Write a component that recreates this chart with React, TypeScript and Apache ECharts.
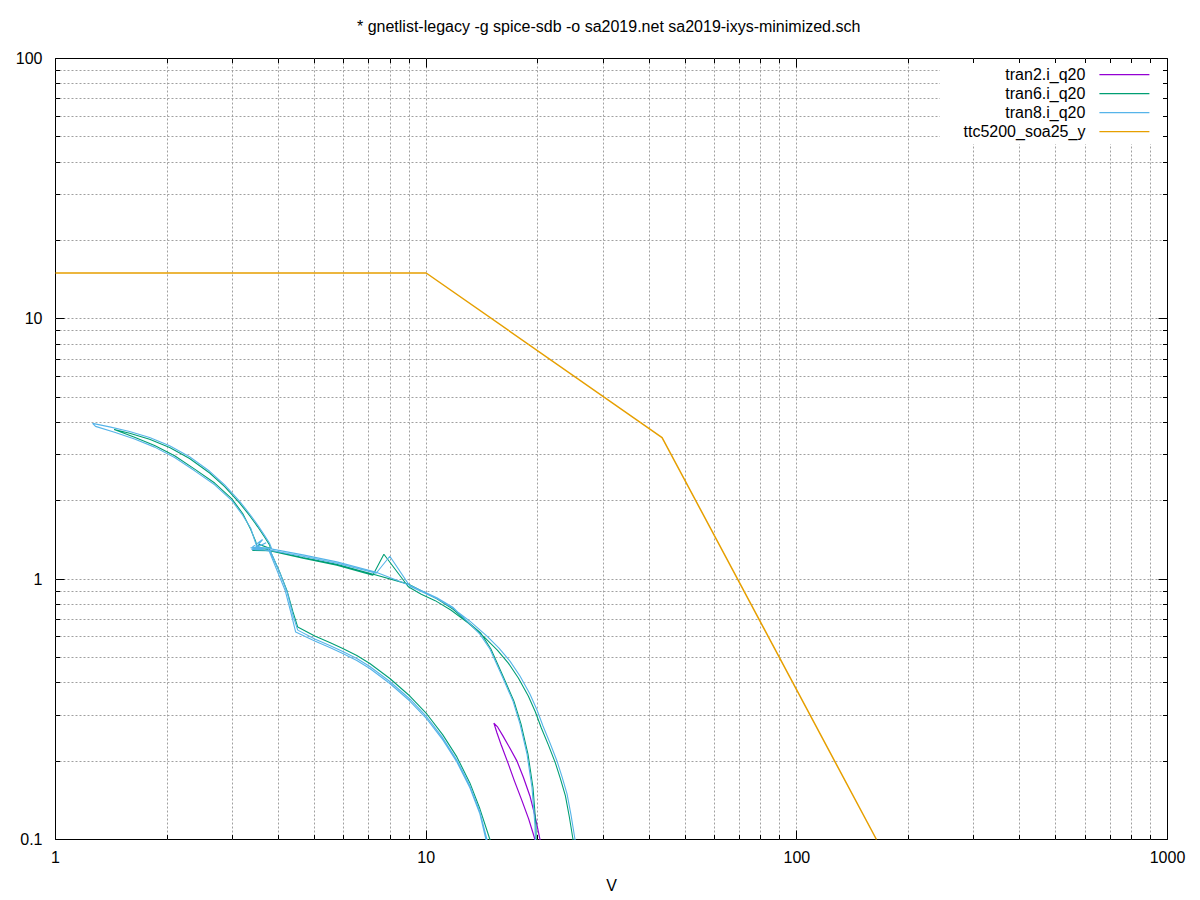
import React, { useEffect, useRef } from "react";
import * as echarts from "echarts";

const FONT = '"Liberation Sans", Arial, Helvetica, sans-serif';

const titleText = "* gnetlist-legacy -g spice-sdb -o sa2019.net sa2019-ixys-minimized.sch";
const xAxisName = "V";

const seriesNames = ["tran2.i_q20", "tran6.i_q20", "tran8.i_q20", "ttc5200_soa25_y"];
const seriesColors = ["#9400d3", "#009e73", "#56b4e9", "#e69f00"];

// [V, I] pairs (points at 0.05 leave the plot below its bottom edge)
const tran2: number[][] = [
  [19.9, 0.05], [19.66, 0.1], [18.9, 0.12], [18.13, 0.141], [17.3, 0.168], [16.62, 0.197], [15.95, 0.23],
  [15.52, 0.257], [15.23, 0.28],
  [15.6, 0.27], [16.11, 0.25], [16.8, 0.225], [17.58, 0.2], [18.3, 0.173], [19.05, 0.147], [19.7, 0.122],
  [20.28, 0.1], [20.6, 0.05],
];

const tran6: number[][] = [
  [15.3, 0.05],
  [14.86, 0.1], [13.96, 0.1312], [13.12, 0.165], [12.1, 0.2076], [11.09, 0.2522], [10.04, 0.3035],
  [9.036, 0.3557], [7.98, 0.4153], [7.047, 0.4741], [6.5, 0.5087], [5.957, 0.5413], [5.495, 0.5706],
  [5.005, 0.6044], [4.503, 0.6544],
  [4.37, 0.75], [4.21, 0.905], [4.03, 1.06], [3.78, 1.3], [3.5, 1.33],
  [3.468, 1.395], [3.363, 1.55], [3.199, 1.787], [2.987, 2.04], [2.688, 2.34], [2.374, 2.646],
  [2.096, 2.977], [1.851, 3.263], [1.634, 3.508], [1.44, 3.76],
  [1.585, 3.634], [1.794, 3.446], [2.032, 3.205], [2.3, 2.909], [2.606, 2.557], [2.86, 2.266],
  [3.14, 1.96], [3.341, 1.753], [3.512, 1.589], [3.667, 1.448], [3.784, 1.35], [3.8, 1.31],
  [3.55, 1.36], [3.4, 1.29],
  [3.78, 1.285], [4.65, 1.204], [5.74, 1.131], [7.18, 1.036], [7.69, 1.247], [8.95, 0.935],
  [9.7, 0.875], [10.58, 0.827], [11.68, 0.76], [12.99, 0.678], [14.44, 0.594], [15.56, 0.534],
  [16.66, 0.476], [17.73, 0.417], [18.86, 0.356], [19.71, 0.309], [20.45, 0.268], [21.36, 0.231],
  [22.31, 0.197], [23.03, 0.171], [23.75, 0.147], [24.34, 0.122], [24.9, 0.1], [25.6, 0.05],
  [19.9, 0.05],
  [19.78, 0.113], [19.42, 0.158], [18.82, 0.213], [18.02, 0.278], [17.25, 0.34], [16.2, 0.417],
  [14.95, 0.539], [14.05, 0.62],
  [11.8, 0.768], [10.69, 0.84], [9.0, 0.955], [7.2, 1.045], [5.74, 1.14], [4.65, 1.212], [3.78, 1.29], [3.4, 1.3],
];

const tran8: number[][] = [
  [14.9, 0.05],
  [14.5, 0.1], [13.96, 0.1255], [13.12, 0.1579], [12.1, 0.1986], [11.09, 0.2412], [10.04, 0.2904],
  [9.036, 0.3404], [7.98, 0.3974], [7.047, 0.4536], [6.5, 0.4869], [5.957, 0.518], [5.495, 0.5461],
  [5.005, 0.5783], [4.446, 0.6263],
  [4.33, 0.73], [4.17, 0.9], [3.98, 1.06], [3.74, 1.32],
  [3.512, 1.315], [3.468, 1.374], [3.363, 1.569], [3.199, 1.76], [2.987, 2.009], [2.688, 2.304],
  [2.374, 2.607], [2.096, 2.933], [1.851, 3.215], [1.634, 3.456], [1.443, 3.669], [1.282, 3.863], [1.259, 3.966],
  [1.399, 3.846], [1.585, 3.689], [1.794, 3.499], [2.032, 3.254], [2.3, 2.953], [2.606, 2.596],
  [2.86, 2.3], [3.14, 1.99], [3.341, 1.78], [3.512, 1.613], [3.667, 1.47], [3.784, 1.37], [3.83, 1.31],
  [3.4, 1.33], [3.62, 1.42], [3.45, 1.31], [3.7, 1.38], [3.38, 1.3],
  [3.784, 1.292], [4.645, 1.225], [5.739, 1.152], [7.33, 1.054], [7.98, 1.225], [9.036, 0.94],
  [9.797, 0.8915], [10.69, 0.8417], [11.8, 0.774], [13.12, 0.69], [14.59, 0.6044], [15.72, 0.5436],
  [16.83, 0.4845], [17.91, 0.4246], [19.05, 0.3621], [19.91, 0.3145], [20.66, 0.273], [21.58, 0.2349],
  [22.54, 0.2003], [23.26, 0.174], [23.99, 0.1497], [24.59, 0.1244], [25.21, 0.1], [26.0, 0.05],
  [20.0, 0.05],
  [19.66, 0.113], [19.3, 0.158], [18.71, 0.213], [17.91, 0.278], [17.15, 0.34], [16.11, 0.417],
  [14.86, 0.539], [13.96, 0.615], [13.3, 0.66],
  [11.8, 0.78], [10.69, 0.848], [9.03, 0.948], [7.3, 1.065], [5.74, 1.165], [4.65, 1.24], [3.78, 1.31], [3.36, 1.32],
  [3.8, 1.28], [4.05, 1.04], [4.22, 0.89], [4.38, 0.72], [4.503, 0.6371],
  [5.005, 0.5886], [5.495, 0.5559], [5.957, 0.5273], [6.5, 0.4955], [7.047, 0.4617], [7.98, 0.4045],
  [9.036, 0.3466], [10.04, 0.2956], [11.09, 0.2455], [12.1, 0.2021], [13.12, 0.1607], [13.96, 0.1278],
  [14.59, 0.1], [15.0, 0.05],
];

const soa: number[][] = [[1, 15], [10, 15], [43.3, 3.5], [164, 0.1]];

const xTickValues = [
  1, 2, 3, 4, 5, 6, 7, 8, 9,
  10, 20, 30, 40, 50, 60, 70, 80, 90,
  100, 200, 300, 400, 500, 600, 700, 800, 900, 1000,
];
const yTickValues = [
  0.1, 0.2, 0.3, 0.4, 0.5, 0.6, 0.7, 0.8, 0.9,
  1, 2, 3, 4, 5, 6, 7, 8, 9,
  10, 20, 30, 40, 50, 60, 70, 80, 90, 100,
];

const isMajor = (v: number) => Math.abs(Math.log10(v) - Math.round(Math.log10(v))) < 1e-6;
const snap = (p: number) => Math.floor(p) + 0.5;
const GRID_COLOR = "#a0a0a0";
const GRID_DASH = [2, 2];

function App() {
  const ref = useRef<HTMLDivElement>(null);

  useEffect(() => {
    if (!ref.current) return;
    const chart = echarts.init(ref.current, undefined, { renderer: "svg" });

    const xGrid = xTickValues.filter((v) => v !== 1 && v !== 1000);
    const yGrid = yTickValues.filter((v) => v !== 0.1 && v !== 100);

    const gridLineSeries: any[] = [
      {
        type: "custom",
        z: 1,
        silent: true,
        clip: false,
        data: xGrid.map((v) => [v, 1]),
        renderItem: (params: any, api: any) => {
          const cs = params.coordSys;
          const x = snap(api.coord([api.value(0), 1])[0]);
          return {
            type: "line",
            shape: { x1: x, y1: cs.y, x2: x, y2: cs.y + cs.height },
            style: { stroke: GRID_COLOR, lineWidth: 1, lineDash: GRID_DASH },
          };
        },
      },
      {
        type: "custom",
        z: 1,
        silent: true,
        clip: false,
        data: yGrid.map((v) => [1, v]),
        renderItem: (params: any, api: any) => {
          const cs = params.coordSys;
          const y = snap(api.coord([1, api.value(1)])[1]);
          return {
            type: "line",
            shape: { x1: cs.x, y1: y, x2: cs.x + cs.width, y2: y },
            style: { stroke: GRID_COLOR, lineWidth: 1, lineDash: GRID_DASH },
          };
        },
      },
    ];

    const tickSeries: any[] = [
      {
        type: "custom",
        z: 4,
        silent: true,
        clip: false,
        data: xTickValues.map((v) => [v, 1]),
        renderItem: (params: any, api: any) => {
          const cs = params.coordSys;
          const v = api.value(0);
          const x = snap(api.coord([v, 1])[0]);
          const len = isMajor(v) ? 9 : 4.5;
          const b = cs.y + cs.height;
          return {
            type: "group",
            children: [
              { type: "line", shape: { x1: x, y1: b, x2: x, y2: b - len }, style: { stroke: "#000", lineWidth: 1 } },
              { type: "line", shape: { x1: x, y1: cs.y, x2: x, y2: cs.y + len }, style: { stroke: "#000", lineWidth: 1 } },
            ],
          };
        },
      },
      {
        type: "custom",
        z: 4,
        silent: true,
        clip: false,
        data: yTickValues.map((v) => [1, v]),
        renderItem: (params: any, api: any) => {
          const cs = params.coordSys;
          const v = api.value(1);
          const y = snap(api.coord([1, v])[1]);
          const len = isMajor(v) ? 9 : 4.5;
          const r = cs.x + cs.width;
          return {
            type: "group",
            children: [
              { type: "line", shape: { x1: cs.x, y1: y, x2: cs.x + len, y2: y }, style: { stroke: "#000", lineWidth: 1 } },
              { type: "line", shape: { x1: r, y1: y, x2: r - len, y2: y }, style: { stroke: "#000", lineWidth: 1 } },
            ],
          };
        },
      },
    ];

    const dataSets = [tran2, tran6, tran8, soa];
    const widths = [1.2, 1.1, 1.1, 1.5];
    const lineSeries = dataSets.map((d, i) => ({
      name: seriesNames[i],
      type: "line",
      data: d,
      z: 3,
      symbol: "none",
      showSymbol: false,
      clip: true,
      silent: true,
      color: seriesColors[i],
      lineStyle: { color: seriesColors[i], width: widths[i] },
      emphasis: { disabled: true },
    }));

    const legends = seriesNames.map((n, i) => ({
      data: [n],
      orient: "vertical",
      right: 50,
      top: 66.7 + 19 * i,
      align: "right",
      itemWidth: 50,
      itemHeight: 18,
      itemGap: 0,
      padding: 0,
      selectedMode: false,
      z: 6,
      itemStyle: { opacity: 0, borderWidth: 0 },
      lineStyle: { width: 1.2 },
      textStyle: { fontSize: 16, fontFamily: FONT, color: "#000", padding: [0, 9, 0, 0] },
    }));

    const labelFmt = (v: number) => String(+Number(v).toPrecision(6));

    chart.setOption({
      animation: false,
      backgroundColor: "#fff",
      title: {
        text: titleText,
        left: 357,
        top: 18,
        padding: 0,
        textStyle: { fontSize: 16, fontWeight: "normal", fontFamily: FONT, color: "#000" },
      },
      legend: legends,
      graphic: [
        {
          type: "rect",
          z: 2,
          silent: true,
          shape: { x: 940, y: 61, width: 224, height: 83 },
          style: { fill: "#fff" },
        },
      ],
      grid: {
        left: 55.5,
        top: 58.5,
        width: 1112,
        height: 781,
        show: true,
        borderColor: "#000",
        borderWidth: 1,
        backgroundColor: "transparent",
        containLabel: false,
        outerBoundsMode: "none",
      },
      xAxis: {
        type: "log",
        logBase: 10,
        min: 1,
        max: 1000,
        name: xAxisName,
        nameLocation: "middle",
        nameGap: 38,
        nameTextStyle: { fontSize: 16, fontFamily: FONT, color: "#000" },
        axisLine: { show: false },
        axisTick: { show: false },
        splitLine: { show: false },
        minorTick: { show: false },
        axisLabel: { fontSize: 16, fontFamily: FONT, color: "#000", margin: 10, formatter: labelFmt },
      },
      yAxis: {
        type: "log",
        logBase: 10,
        min: 0.1,
        max: 100,
        axisLine: { show: false },
        axisTick: { show: false },
        splitLine: { show: false },
        minorTick: { show: false },
        axisLabel: { fontSize: 16, fontFamily: FONT, color: "#000", margin: 13, formatter: labelFmt },
      },
      series: [...gridLineSeries, ...lineSeries, ...tickSeries],
    });

    return () => chart.dispose();
  }, []);

  return (
    <div
      ref={ref}
      style={{ position: "absolute", left: 0, top: 0, width: 1200, height: 900 }}
    />
  );
}

export default App;
